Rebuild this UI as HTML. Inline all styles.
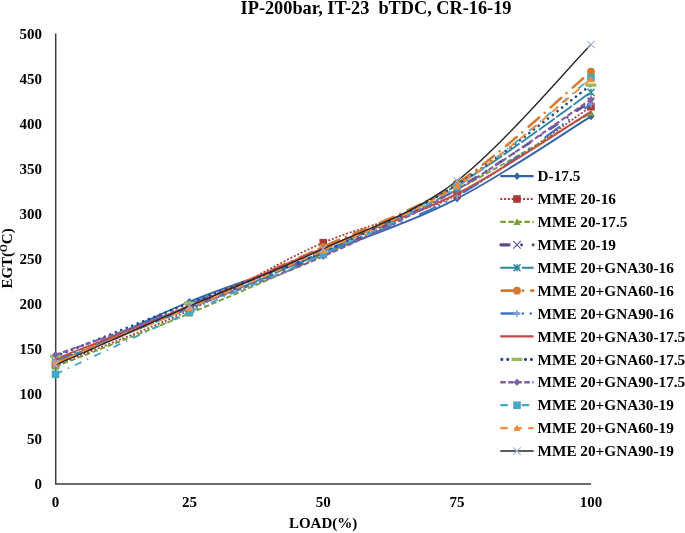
<!DOCTYPE html><html><head><meta charset="utf-8"><style>html,body{margin:0;padding:0;background:#fff;}svg{display:block;will-change:transform;filter:blur(0.4px);}text{font-family:"Liberation Serif",serif;font-weight:bold;}</style></head><body>
<svg width="685" height="533" viewBox="0 0 685 533">
<rect width="685" height="533" fill="#fff"/>
<g fill="#000">
<text x="240.6" y="13.8" font-size="18.3" xml:space="preserve" style="white-space:pre">IP-200bar, IT-23  bTDC, CR-16-19</text>
<text x="42" y="488.9" font-size="15" text-anchor="end">0</text>
<text x="42" y="443.9" font-size="15" text-anchor="end">50</text>
<text x="42" y="398.9" font-size="15" text-anchor="end">100</text>
<text x="42" y="354.0" font-size="15" text-anchor="end">150</text>
<text x="42" y="309.0" font-size="15" text-anchor="end">200</text>
<text x="42" y="264.0" font-size="15" text-anchor="end">250</text>
<text x="42" y="219.0" font-size="15" text-anchor="end">300</text>
<text x="42" y="174.0" font-size="15" text-anchor="end">350</text>
<text x="42" y="129.1" font-size="15" text-anchor="end">400</text>
<text x="42" y="84.1" font-size="15" text-anchor="end">450</text>
<text x="42" y="39.1" font-size="15" text-anchor="end">500</text>
<text x="55.5" y="507.3" font-size="15" text-anchor="middle">0</text>
<text x="189.4" y="507.3" font-size="15" text-anchor="middle">25</text>
<text x="323.2" y="507.3" font-size="15" text-anchor="middle">50</text>
<text x="457.1" y="507.3" font-size="15" text-anchor="middle">75</text>
<text x="591.0" y="507.3" font-size="15" text-anchor="middle">100</text>
<text x="288.9" y="527.6" font-size="15">LOAD(%)</text>
<text transform="translate(11.9,288.6) rotate(-90)" font-size="15">EGT(<tspan font-size="10" dy="-5">O</tspan><tspan dy="5">C)</tspan></text>
</g>
<path d="M55.7,33.6 V484.0 H591.1" stroke="#3c3c3c" stroke-width="1.5" stroke-linejoin="round" fill="none"/>
<path d="M55.50,364.37 C77.81,353.93 144.75,320.22 189.38,301.75 C234.00,283.28 278.62,270.74 323.25,253.54 C367.88,236.35 412.50,221.44 457.12,198.58 C501.75,175.73 568.69,130.11 591.00,116.41" stroke="#3464a8" stroke-width="1.87" fill="none" stroke-linecap="butt"/>
<path d="M55.50,360.57 l3.4,3.8 l-3.4,3.8 l-3.4,-3.8 z" fill="#3464a8"/>
<path d="M189.38,297.95 l3.4,3.8 l-3.4,3.8 l-3.4,-3.8 z" fill="#3464a8"/>
<path d="M323.25,249.74 l3.4,3.8 l-3.4,3.8 l-3.4,-3.8 z" fill="#3464a8"/>
<path d="M457.12,194.78 l3.4,3.8 l-3.4,3.8 l-3.4,-3.8 z" fill="#3464a8"/>
<path d="M591.00,112.61 l3.4,3.8 l-3.4,3.8 l-3.4,-3.8 z" fill="#3464a8"/>
<path d="M55.50,365.27 C77.81,356.11 144.75,330.73 189.38,310.31 C234.00,289.88 278.62,261.95 323.25,242.73 C367.88,223.51 412.50,217.65 457.12,194.98 C501.75,172.30 568.69,121.40 591.00,106.68" stroke="#a83b38" stroke-width="1.70" fill="none" stroke-linecap="butt" stroke-dasharray="2 1.8"/>
<rect x="51.70" y="361.47" width="7.6" height="7.6" fill="#a83b38"/>
<rect x="185.57" y="306.51" width="7.6" height="7.6" fill="#a83b38"/>
<rect x="319.45" y="238.93" width="7.6" height="7.6" fill="#a83b38"/>
<rect x="453.32" y="191.18" width="7.6" height="7.6" fill="#a83b38"/>
<rect x="587.20" y="102.88" width="7.6" height="7.6" fill="#a83b38"/>
<path d="M55.50,366.62 C77.81,357.76 144.75,332.08 189.38,313.46 C234.00,294.84 278.62,275.54 323.25,254.90 C367.88,234.25 412.50,213.21 457.12,189.57 C501.75,165.94 568.69,125.83 591.00,113.08" stroke="#74a03c" stroke-width="1.87" fill="none" stroke-linecap="butt" stroke-dasharray="5.5 2.5"/>
<path d="M55.50,363.02 l3.6,6.6 h-7.2 z" fill="#74a03c"/>
<path d="M189.38,309.86 l3.6,6.6 h-7.2 z" fill="#74a03c"/>
<path d="M323.25,251.30 l3.6,6.6 h-7.2 z" fill="#74a03c"/>
<path d="M457.12,185.97 l3.6,6.6 h-7.2 z" fill="#74a03c"/>
<path d="M591.00,109.48 l3.6,6.6 h-7.2 z" fill="#74a03c"/>
<path d="M55.50,364.37 C77.81,354.76 144.75,325.02 189.38,306.70 C234.00,288.38 278.62,274.12 323.25,254.44 C367.88,234.77 412.50,214.20 457.12,188.67 C501.75,163.14 568.69,115.84 591.00,101.27" stroke="#604a89" stroke-width="2.63" fill="none" stroke-linecap="round" stroke-dasharray="8.3 12.45 0.01 11.55"/>
<path d="M51.80,360.67 l7.4,7.4 m0,-7.4 l-7.4,7.4" stroke="#604a89" stroke-width="1.1" fill="none"/>
<path d="M185.68,303.00 l7.4,7.4 m0,-7.4 l-7.4,7.4" stroke="#604a89" stroke-width="1.1" fill="none"/>
<path d="M319.55,250.75 l7.4,7.4 m0,-7.4 l-7.4,7.4" stroke="#604a89" stroke-width="1.1" fill="none"/>
<path d="M453.43,184.97 l7.4,7.4 m0,-7.4 l-7.4,7.4" stroke="#604a89" stroke-width="1.1" fill="none"/>
<path d="M587.30,97.57 l7.4,7.4 m0,-7.4 l-7.4,7.4" stroke="#604a89" stroke-width="1.1" fill="none"/>
<path d="M55.50,361.66 C77.81,352.80 144.75,326.83 189.38,308.50 C234.00,290.18 278.62,272.31 323.25,251.74 C367.88,231.17 412.50,211.65 457.12,185.07 C501.75,158.49 568.69,107.73 591.00,92.26" stroke="#2e87a0" stroke-width="1.87" fill="none" stroke-linecap="butt" stroke-dasharray="19.5 2"/>
<path d="M52.00,358.16 l7,7 m0,-7 l-7,7 M55.50,358.16 v7" stroke="#2e87a0" stroke-width="1.5" fill="none"/>
<path d="M185.88,305.00 l7,7 m0,-7 l-7,7 M189.38,305.00 v7" stroke="#2e87a0" stroke-width="1.5" fill="none"/>
<path d="M319.75,248.24 l7,7 m0,-7 l-7,7 M323.25,248.24 v7" stroke="#2e87a0" stroke-width="1.5" fill="none"/>
<path d="M453.62,181.57 l7,7 m0,-7 l-7,7 M457.12,181.57 v7" stroke="#2e87a0" stroke-width="1.5" fill="none"/>
<path d="M587.50,88.76 l7,7 m0,-7 l-7,7 M591.00,88.76 v7" stroke="#2e87a0" stroke-width="1.5" fill="none"/>
<path d="M55.50,362.56 C77.81,353.10 144.75,325.10 189.38,305.80 C234.00,286.51 278.62,267.21 323.25,246.79 C367.88,226.36 412.50,212.47 457.12,183.27 C501.75,154.06 568.69,90.16 591.00,71.54" stroke="#d47832" stroke-width="2.46" fill="none" stroke-linecap="round" stroke-dasharray="14 7.2 0.01 8.3"/>
<circle cx="55.50" cy="362.56" r="3.9" fill="#d47832"/>
<circle cx="189.38" cy="305.80" r="3.9" fill="#d47832"/>
<circle cx="323.25" cy="246.79" r="3.9" fill="#d47832"/>
<circle cx="457.12" cy="183.27" r="3.9" fill="#d47832"/>
<circle cx="591.00" cy="71.54" r="3.9" fill="#d47832"/>
<path d="M55.50,360.76 C77.81,351.30 144.75,322.02 189.38,304.00 C234.00,285.98 278.62,270.66 323.25,252.64 C367.88,234.62 412.50,220.66 457.12,195.88 C501.75,171.10 568.69,119.29 591.00,103.98" stroke="#3f74c0" stroke-width="2.21" fill="none" stroke-linecap="round" stroke-dasharray="17 4.2 0.01 7.9 0.01 20"/>
<path d="M52.00,360.76 h7 M55.50,357.26 v7" stroke="#7ea3dc" stroke-width="1.5" fill="none"/>
<path d="M185.88,304.00 h7 M189.38,300.50 v7" stroke="#7ea3dc" stroke-width="1.5" fill="none"/>
<path d="M319.75,252.64 h7 M323.25,249.14 v7" stroke="#7ea3dc" stroke-width="1.5" fill="none"/>
<path d="M453.62,195.88 h7 M457.12,192.38 v7" stroke="#7ea3dc" stroke-width="1.5" fill="none"/>
<path d="M587.50,103.98 h7 M591.00,100.48 v7" stroke="#7ea3dc" stroke-width="1.5" fill="none"/>
<path d="M55.50,359.14 C77.81,350.25 144.75,324.30 189.38,305.80 C234.00,287.30 278.62,266.83 323.25,248.14 C367.88,229.44 412.50,216.38 457.12,193.63 C501.75,170.88 568.69,125.30 591.00,111.64" stroke="#c24b47" stroke-width="1.87" fill="none" stroke-linecap="butt"/>
<path d="M55.50,356.26 C77.81,347.40 144.75,320.52 189.38,303.10 C234.00,285.68 278.62,271.49 323.25,251.74 C367.88,232.00 412.50,212.40 457.12,184.62 C501.75,156.84 568.69,101.65 591.00,85.06" stroke="#1f4a87" stroke-width="2.63" fill="none" stroke-linecap="round" stroke-dasharray="0.01 5.9"/>
<rect x="50.10" y="354.66" width="10.8" height="3.2" fill="#9bbb59"/>
<rect x="183.97" y="301.50" width="10.8" height="3.2" fill="#9bbb59"/>
<rect x="317.85" y="250.14" width="10.8" height="3.2" fill="#9bbb59"/>
<rect x="451.73" y="183.02" width="10.8" height="3.2" fill="#9bbb59"/>
<rect x="585.60" y="83.46" width="10.8" height="3.2" fill="#9bbb59"/>
<path d="M55.50,354.82 C77.81,346.95 144.75,324.03 189.38,307.60 C234.00,291.18 278.62,275.92 323.25,256.25 C367.88,236.58 412.50,215.70 457.12,189.57 C501.75,163.44 568.69,114.49 591.00,99.47" stroke="#7e60a8" stroke-width="2.21" fill="none" stroke-linecap="butt" stroke-dasharray="5.5 2.5"/>
<path d="M55.50,351.02 l3.4,3.8 l-3.4,3.8 l-3.4,-3.8 z" fill="#7e60a8"/>
<path d="M189.38,303.80 l3.4,3.8 l-3.4,3.8 l-3.4,-3.8 z" fill="#7e60a8"/>
<path d="M323.25,252.45 l3.4,3.8 l-3.4,3.8 l-3.4,-3.8 z" fill="#7e60a8"/>
<path d="M457.12,185.77 l3.4,3.8 l-3.4,3.8 l-3.4,-3.8 z" fill="#7e60a8"/>
<path d="M591.00,95.67 l3.4,3.8 l-3.4,3.8 l-3.4,-3.8 z" fill="#7e60a8"/>
<path d="M55.50,374.28 C77.81,363.92 144.75,332.17 189.38,312.11 C234.00,292.05 278.62,274.78 323.25,253.90 C367.88,233.03 412.50,216.21 457.12,186.87 C501.75,157.53 568.69,96.02 591.00,77.85" stroke="#45a9c6" stroke-width="1.87" fill="none" stroke-linecap="butt" stroke-dasharray="7.5 6.3 1.3 6.3"/>
<rect x="51.70" y="370.48" width="7.6" height="7.6" fill="#45a9c6"/>
<rect x="185.57" y="308.31" width="7.6" height="7.6" fill="#45a9c6"/>
<rect x="319.45" y="250.10" width="7.6" height="7.6" fill="#45a9c6"/>
<rect x="453.32" y="183.07" width="7.6" height="7.6" fill="#45a9c6"/>
<rect x="587.20" y="74.05" width="7.6" height="7.6" fill="#45a9c6"/>
<path d="M55.50,363.02 C77.81,353.86 144.75,326.81 189.38,308.05 C234.00,289.30 278.62,270.83 323.25,250.48 C367.88,230.13 412.50,214.52 457.12,185.97 C501.75,157.42 568.69,97.00 591.00,79.20" stroke="#f68c3c" stroke-width="1.87" fill="none" stroke-linecap="butt" stroke-dasharray="7.5 6.5"/>
<path d="M55.50,359.42 l3.6,6.6 h-7.2 z" fill="#f68c3c"/>
<path d="M189.38,304.45 l3.6,6.6 h-7.2 z" fill="#f68c3c"/>
<path d="M323.25,246.88 l3.6,6.6 h-7.2 z" fill="#f68c3c"/>
<path d="M457.12,182.37 l3.6,6.6 h-7.2 z" fill="#f68c3c"/>
<path d="M591.00,75.60 l3.6,6.6 h-7.2 z" fill="#f68c3c"/>
<path d="M55.50,365.00 C77.81,355.19 144.75,325.53 189.38,306.16 C234.00,286.79 278.62,269.66 323.25,248.77 C367.88,227.88 412.50,214.88 457.12,180.83 C501.75,146.79 568.69,67.23 591.00,44.51" stroke="#262626" stroke-width="1.36" fill="none" stroke-linecap="butt"/>
<path d="M51.80,361.30 l7.4,7.4 m0,-7.4 l-7.4,7.4" stroke="#9db6dc" stroke-width="1.1" fill="none"/>
<path d="M185.68,302.46 l7.4,7.4 m0,-7.4 l-7.4,7.4" stroke="#9db6dc" stroke-width="1.1" fill="none"/>
<path d="M319.55,245.07 l7.4,7.4 m0,-7.4 l-7.4,7.4" stroke="#9db6dc" stroke-width="1.1" fill="none"/>
<path d="M453.43,177.13 l7.4,7.4 m0,-7.4 l-7.4,7.4" stroke="#9db6dc" stroke-width="1.1" fill="none"/>
<path d="M587.30,40.81 l7.4,7.4 m0,-7.4 l-7.4,7.4" stroke="#9db6dc" stroke-width="1.1" fill="none"/>
<path d="M500.30,176.10 H533.60" stroke="#3464a8" stroke-width="2.2" fill="none" stroke-linecap="butt"/>
<path d="M517.00,172.30 l3.4,3.8 l-3.4,3.8 l-3.4,-3.8 z" fill="#3464a8"/>
<text x="537.6" y="181.30" font-size="15.25">D-17.5</text>
<path d="M500.30,199.01 H533.60" stroke="#a83b38" stroke-width="2.0" fill="none" stroke-linecap="butt" stroke-dasharray="2 1.8"/>
<rect x="513.20" y="195.21" width="7.6" height="7.6" fill="#a83b38"/>
<text x="537.6" y="204.21" font-size="15.25">MME 20-16</text>
<path d="M500.30,221.92 H533.60" stroke="#74a03c" stroke-width="2.2" fill="none" stroke-linecap="butt" stroke-dasharray="5.5 2.5"/>
<path d="M517.00,218.32 l3.6,6.6 h-7.2 z" fill="#74a03c"/>
<text x="537.6" y="227.12" font-size="15.25">MME 20-17.5</text>
<path d="M500.85,244.83 H533.20" stroke="#604a89" stroke-width="3.1" fill="none" stroke-linecap="round" stroke-dasharray="8.3 12.45 0.01 11.55"/>
<path d="M513.30,241.13 l7.4,7.4 m0,-7.4 l-7.4,7.4" stroke="#604a89" stroke-width="1.1" fill="none"/>
<text x="537.6" y="250.03" font-size="15.25">MME 20-19</text>
<path d="M500.30,267.74 H533.60" stroke="#2e87a0" stroke-width="2.2" fill="none" stroke-linecap="butt" stroke-dasharray="19.5 2"/>
<path d="M513.50,264.24 l7,7 m0,-7 l-7,7 M517.00,264.24 v7" stroke="#2e87a0" stroke-width="1.5" fill="none"/>
<text x="537.6" y="272.94" font-size="15.25">MME 20+GNA30-16</text>
<path d="M501.75,290.65 H533.20" stroke="#d47832" stroke-width="2.9" fill="none" stroke-linecap="round" stroke-dasharray="14 7.2 0.01 8.3"/>
<circle cx="517.00" cy="290.65" r="3.9" fill="#d47832"/>
<text x="537.6" y="295.85" font-size="15.25">MME 20+GNA60-16</text>
<path d="M501.60,313.56 H533.20" stroke="#3f74c0" stroke-width="2.6" fill="none" stroke-linecap="round" stroke-dasharray="17 4.2 0.01 7.9 0.01 20"/>
<path d="M513.50,313.56 h7 M517.00,310.06 v7" stroke="#7ea3dc" stroke-width="1.5" fill="none"/>
<text x="537.6" y="318.76" font-size="15.25">MME 20+GNA90-16</text>
<path d="M500.30,336.47 H533.60" stroke="#c24b47" stroke-width="2.2" fill="none" stroke-linecap="butt"/>
<text x="537.6" y="341.67" font-size="15.25">MME 20+GNA30-17.5</text>
<path d="M501.85,359.38 H533.20" stroke="#1f4a87" stroke-width="3.1" fill="none" stroke-linecap="round" stroke-dasharray="0.01 5.9"/>
<rect x="511.60" y="357.78" width="10.8" height="3.2" fill="#9bbb59"/>
<text x="537.6" y="364.58" font-size="15.25">MME 20+GNA60-17.5</text>
<path d="M500.30,382.29 H533.60" stroke="#7e60a8" stroke-width="2.6" fill="none" stroke-linecap="butt" stroke-dasharray="5.5 2.5"/>
<path d="M517.00,378.49 l3.4,3.8 l-3.4,3.8 l-3.4,-3.8 z" fill="#7e60a8"/>
<text x="537.6" y="387.49" font-size="15.25">MME 20+GNA90-17.5</text>
<path d="M500.30,405.20 H533.60" stroke="#45a9c6" stroke-width="2.2" fill="none" stroke-linecap="butt" stroke-dasharray="7.5 6.3 1.3 6.3"/>
<rect x="513.20" y="401.40" width="7.6" height="7.6" fill="#45a9c6"/>
<text x="537.6" y="410.40" font-size="15.25">MME 20+GNA30-19</text>
<path d="M500.30,428.11 H533.60" stroke="#f68c3c" stroke-width="2.2" fill="none" stroke-linecap="butt" stroke-dasharray="7.5 6.5"/>
<path d="M517.00,424.51 l3.6,6.6 h-7.2 z" fill="#f68c3c"/>
<text x="537.6" y="433.31" font-size="15.25">MME 20+GNA60-19</text>
<path d="M500.30,451.02 H533.60" stroke="#262626" stroke-width="1.6" fill="none" stroke-linecap="butt"/>
<path d="M513.30,447.32 l7.4,7.4 m0,-7.4 l-7.4,7.4" stroke="#9db6dc" stroke-width="1.1" fill="none"/>
<text x="537.6" y="456.22" font-size="15.25">MME 20+GNA90-19</text>
</svg></body></html>
